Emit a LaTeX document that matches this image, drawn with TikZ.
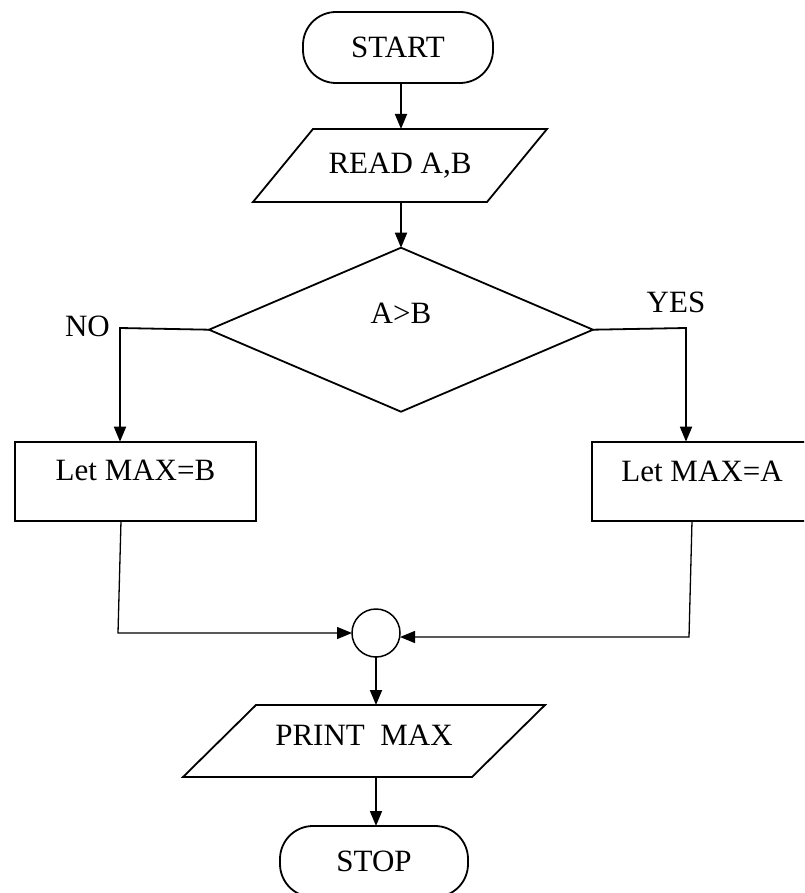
\documentclass[tikz,border=0pt]{standalone}
\usepackage{fontspec}
\setmainfont{Liberation Serif}
\usetikzlibrary{arrows.meta,shapes.geometric}
\begin{document}
\begin{tikzpicture}[x=1pt,y=-1pt,
  every node/.style={font=\fontsize{31}{36}\selectfont, inner sep=0pt, outer sep=0pt, text height=20.5pt, text depth=0pt},
  box/.style={draw, line width=1.8pt},
  term/.style={box, rectangle, rounded corners=33pt},
  paratext/.style={rectangle},
  arr/.style={line width=1.8pt, -{Triangle[length=15pt,width=12pt]}},
  thinarr/.style={line width=1.3pt, -{Triangle[length=15pt,width=12pt]}},
  thinline/.style={line width=1.3pt}]
\useasboundingbox (0,0) rectangle (804,893);
\clip (0,0) rectangle (804,893);
\node[term, minimum width=190pt, minimum height=71pt] (start) at (398,47.5) {START};
\node[paratext, minimum width=294pt, minimum height=73pt, text depth=5pt] (read) at (400,165.5) {READ A,B};
\draw[box, line join=miter] ([xshift=-147pt]read.south) -- ([xshift=87pt]read.south) -- ([xshift=147pt]read.north) -- ([xshift=-87pt]read.north) -- cycle;
\node[box, diamond, minimum width=384pt, minimum height=164pt, text depth=33pt] (dia) at (401,329.7) {A>B};
\node (no) at (87.5,326.5) {NO};
\node (yes) at (676,302) {YES};
\node[box, rectangle, minimum width=241pt, minimum height=79pt, text depth=22pt] (maxb) at (135.5,481.2) {Let MAX=B};
\node[box, rectangle, minimum width=220pt, minimum height=79pt, text depth=20pt] (maxa) at (702,481.2) {Let MAX=A};
\node[box, circle, minimum size=48pt, line width=1.5pt] (join) at (376,633) {};
\node[paratext, minimum width=362pt, minimum height=72pt, text depth=12pt] (print) at (364,741) {PRINT\ \ MAX};
\draw[box, line join=miter] ([xshift=-181pt]print.south) -- ([xshift=108pt]print.south) -- ([xshift=181pt]print.north) -- ([xshift=-108pt]print.north) -- cycle;
\node[term, minimum width=188pt, minimum height=71pt] (stop) at (374,861.5) {STOP};
\coordinate (nocorner) at (120,328);
\coordinate (yescorner) at (686,328);
\coordinate (bl) at (118,633);
\coordinate (br) at (689,637);
\draw[arr] (401,0 |- start.south) -- (401,0 |- read.north);
\draw[arr] (401,0 |- read.south) -- (dia.north);
\draw[arr] (dia.west) -- (nocorner) -- (nocorner |- maxb.north);
\draw[arr] (dia.east) -- (yescorner) -- (yescorner |- maxa.north);
\draw[thinarr] ([xshift=-14.5pt]maxb.south) -- (bl) -- (bl -| join.west);
\draw[thinarr] ([xshift=-10pt]maxa.south) -- (br) -- (br -| join.east);
\draw[arr] (join.south) -- (join.south |- print.north);
\draw[arr] (376,0 |- print.south) -- (376,0 |- stop.north);
\end{tikzpicture}
\end{document}
